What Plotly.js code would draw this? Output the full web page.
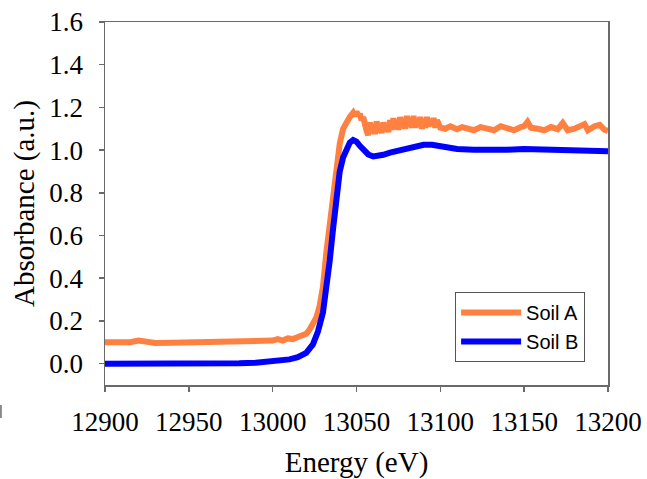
<!DOCTYPE html>
<html>
<head>
<meta charset="utf-8">
<script src="https://cdn.plot.ly/plotly-3.0.1.min.js"></script>
<style>html,body{margin:0;padding:0;background:#fff;}#chart{width:647px;height:479px;}</style>
</head>
<body>
<div id="chart"></div>
<script>
const energyA = [12900,12905,12910,12915,12920,12925,12930,12940,12950,12960,12970,12980,12990,12995,13000,13003,13006,13009,13012,13015,13018,13020,13022,13024,13026,13028,13030,13032,13034,13036,13038,13040,13042,13044,13046,13048,13049,13050,13051,13052,13053,13054,13055,13056,13057,13058,13059,13060,13061,13062,13063,13064,13065,13066,13067,13068,13069,13070,13071,13072,13073,13074,13075,13076,13077,13078,13079,13080,13081,13082,13083,13084,13085,13086,13087,13088,13089,13090,13091,13092,13093,13094,13095,13096,13097,13098,13100,13103,13106,13110,13113,13116,13120,13124,13128,13132,13136,13140,13144,13148,13150,13152,13154,13158,13162,13166,13170,13173,13176,13180,13184,13186,13188,13192,13195,13198,13200];
const soilA = [0.100,0.098,0.095,0.100,0.108,0.100,0.097,0.098,0.100,0.098,0.100,0.103,0.106,0.110,0.108,0.115,0.108,0.118,0.115,0.125,0.130,0.140,0.160,0.185,0.215,0.270,0.360,0.520,0.660,0.790,0.920,1.030,1.100,1.135,1.155,1.175,1.160,1.180,1.160,1.170,1.140,1.155,1.110,1.090,1.070,1.130,1.080,1.120,1.075,1.135,1.085,1.110,1.080,1.130,1.090,1.120,1.085,1.140,1.095,1.150,1.100,1.140,1.095,1.155,1.105,1.150,1.100,1.160,1.110,1.150,1.105,1.160,1.105,1.145,1.110,1.155,1.100,1.145,1.105,1.155,1.110,1.145,1.115,1.150,1.105,1.140,1.105,1.100,1.112,1.098,1.108,1.100,1.093,1.108,1.100,1.093,1.112,1.100,1.093,1.108,1.112,1.132,1.105,1.100,1.093,1.108,1.098,1.127,1.093,1.100,1.112,1.122,1.093,1.112,1.118,1.095,1.090];
const energyB = [12900,12910,12920,12930,12940,12950,12960,12970,12980,12990,13000,13005,13010,13015,13020,13024,13027,13030,13032,13034,13036,13038,13040,13042,13044,13046,13048,13050,13052,13054,13057,13060,13063,13066,13070,13075,13080,13085,13090,13095,13100,13105,13110,13120,13130,13140,13150,13160,13170,13180,13190,13200];
const soilB = [0.000,0.000,0.000,-0.002,-0.005,-0.003,0.000,0.000,0.002,0.004,0.010,0.014,0.020,0.030,0.050,0.090,0.150,0.240,0.340,0.480,0.630,0.790,0.900,0.965,1.010,1.035,1.047,1.040,1.020,1.000,0.980,0.970,0.972,0.978,0.988,0.998,1.008,1.018,1.025,1.025,1.018,1.010,1.005,1.002,1.000,1.002,1.005,1.003,1.000,1.000,0.998,0.995];
const seriesNames = ["Soil A","Soil B"];
const xTicks = [12900,12950,13000,13050,13100,13150,13200];
const yTicks = [0,0.2,0.4,0.6,0.8,1.0,1.2,1.4,1.6];

const traces = [
  {x: energyA, y: soilA, name: seriesNames[0], type: 'scatter', mode: 'lines',
   line: {color: '#FF8040', width: 6}},
  {x: energyB, y: soilB, name: seriesNames[1], type: 'scatter', mode: 'lines',
   line: {color: '#0000FF', width: 6}}
];
const serif = 'Liberation Serif';
const layout = {
  width: 647, height: 479,
  margin: {l: 105, r: 39, t: 22, b: 94, pad: 0},
  paper_bgcolor: '#fff', plot_bgcolor: '#fff',
  showlegend: true,
  legend: {x: 0.696, y: 0.256, xanchor: 'left', yanchor: 'top',
    bgcolor: '#fff', bordercolor: '#555', borderwidth: 1,
    font: {family: 'Liberation Sans', size: 20, color: '#000'},
    itemwidth: 60, tracegroupgap: 0},
  xaxis: {range: [12900, 13200], tickvals: xTicks, ticktext: xTicks.map(String),
    showgrid: false, zeroline: false, showline: true, linecolor: '#6a6a6a', linewidth: 1.5,
    mirror: true, ticks: 'outside', ticklen: 5, tickcolor: '#6a6a6a', tickwidth: 1.5,
    ticklabelstandoff: 7,
    tickfont: {family: serif, size: 27, color: '#000'},
    title: {text: 'Energy (eV)', font: {family: serif, size: 29, color: '#000'}, standoff: 22}},
  yaxis: {range: [-0.1, 1.6], tickvals: yTicks, ticktext: yTicks.map(v => v.toFixed(1)),
    showgrid: false, zeroline: false, showline: true, linecolor: '#6a6a6a', linewidth: 1.5,
    mirror: true, ticks: 'outside', ticklen: 5, tickcolor: '#6a6a6a', tickwidth: 1.5,
    ticklabelstandoff: 10,
    tickfont: {family: serif, size: 27, color: '#000'},
    title: {text: 'Absorbance (a.u.)', font: {family: serif, size: 29, color: '#000'}, standoff: 6}},
  shapes: [{type: 'line', xref: 'paper', yref: 'paper', x0: -0.207, x1: -0.207, y0: -0.055, y1: -0.091,
    line: {color: '#888', width: 2}}]
};
Plotly.newPlot('chart', traces, layout, {staticPlot: true, displayModeBar: false});
</script>
</body>
</html>
